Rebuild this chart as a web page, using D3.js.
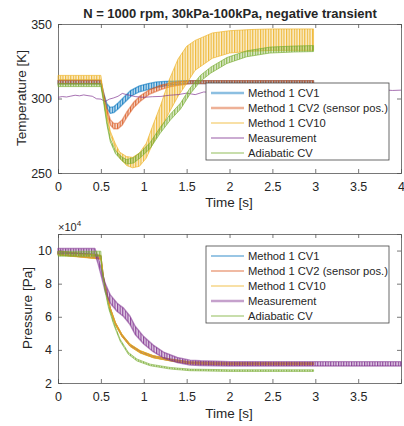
<!DOCTYPE html>
<html>
<head>
<meta charset="utf-8">
<script src="https://cdn.jsdelivr.net/npm/d3@7"></script>
<style>
  body { margin: 0; background: #fff; }
  text { font-family: "Liberation Sans", Arial, sans-serif; fill: #262626; }
</style>
</head>
<body>
<svg width="404" height="426"></svg>
<script>
// ---- data ----
var seriesNames = ["Method 1 CV1", "Method 1 CV2 (sensor pos.)", "Method 1 CV10", "Measurement", "Adiabatic CV"];
var seriesColors = ["#0072BD", "#D95319", "#EDB120", "#7E2F8E", "#77AC30"];

var xTicksTop = [0, 0.5, 1, 1.5, 2, 2.5, 3, 3.5, 4];
var xTicksBottom = [0, 0.5, 1, 1.5, 2, 2.5, 3, 3.5];
var yTicksTemp = [250, 300, 350];
var yTicksPres = [2, 4, 6, 8, 10];

// temperature [K]: time, mid value, half range of the cycle ripple
var tempCv1T   = [0, 0.5, 0.53, 0.57, 0.61, 0.65, 0.7, 0.77, 0.85, 0.95, 1.05, 1.15, 1.25, 1.35, 1.5, 2.0, 2.5, 2.98];
var tempCv1    = [311, 311, 303, 295, 292, 292.5, 295, 299, 303.5, 306.5, 308, 309.3, 310, 310.5, 311, 311, 311, 311];
var tempCv1Amp = [1.2, 1.2, 1, 1.5, 2, 2, 2, 2, 2, 2, 2, 1.8, 1.5, 1.2, 1, 1, 1, 1];

var tempCv2T   = [0, 0.5, 0.53, 0.57, 0.61, 0.65, 0.7, 0.75, 0.8, 0.88, 0.96, 1.07, 1.2, 1.3, 1.4, 1.55, 2.0, 2.5, 2.98];
var tempCv2    = [311, 311, 303.5, 292, 284, 281.5, 281.5, 284, 289, 295.5, 300, 304.5, 307.5, 309, 310, 311, 311, 311, 311];
var tempCv2Amp = [1.2, 1.2, 1, 1.5, 1.8, 1.8, 1.8, 1.8, 1.8, 1.8, 1.8, 1.5, 1.5, 1.2, 1.2, 1, 1, 1, 1];

var tempCv10T   = [0, 0.5, 0.53, 0.57, 0.61, 0.67, 0.72, 0.8, 0.87, 0.95, 1.03, 1.1, 1.2, 1.3, 1.4, 1.5, 1.6, 1.8, 2.0, 2.25, 2.5, 2.75, 2.98];
var tempCv10    = [314, 314, 301, 288, 277, 268, 262, 258, 257, 259, 265, 275, 288, 302, 314, 322.5, 329, 335.5, 338, 339, 339.5, 339.5, 339.5];
var tempCv10Amp = [1.5, 1.5, 1, 1, 1, 1.5, 2, 3, 3.5, 4.5, 5, 6, 8, 11, 12.5, 12.5, 10, 8.5, 7.5, 7.3, 7.2, 7.2, 7.2];

var tempAdiT   = [0, 0.5, 0.53, 0.57, 0.61, 0.67, 0.745, 0.8, 0.88, 0.96, 1.075, 1.19, 1.31, 1.43, 1.54, 1.66, 1.78, 1.97, 2.2, 2.47, 2.75, 2.98];
var tempAdi    = [309, 309, 299, 283.5, 272, 264, 259.5, 257.5, 258.5, 262, 268.5, 278.5, 287.5, 295, 305, 313.5, 319, 325.5, 330, 332.5, 333.2, 333.5];
var tempAdiAmp = [1, 1, 1, 1, 1, 1, 1.2, 1.5, 1.8, 1.8, 2, 2, 2, 2, 2, 2, 2, 2, 2, 2, 2, 2];

var tempMeasT = [0, 0.05, 0.1, 0.15, 0.2, 0.25, 0.3, 0.35, 0.4, 0.45, 0.5, 0.55, 0.6, 0.65, 0.7, 0.75, 0.8, 0.85, 0.9, 0.95, 1.0, 1.1, 1.2, 1.3, 1.4, 1.5, 1.6, 1.7, 1.8, 2.0, 2.2, 2.4, 2.6, 2.8, 3.0, 3.2, 3.4, 3.6, 3.8, 3.9, 4.0];
var tempMeas  = [300.8, 301.3, 301, 301.6, 302.2, 301.8, 302.4, 301.9, 301.5, 299.8, 299.6, 298, 299.6, 300.4, 301.5, 303.4, 302.6, 302, 301.3, 301, 300.8, 301.2, 301.4, 302.2, 302.6, 303.6, 302.6, 304.4, 304, 304.3, 304.6, 304.8, 305, 305.1, 305.3, 305.4, 305.5, 305.6, 305.8, 305.4, 305.6];

// pressure [x10^4 Pa]
var presCv1T   = [0, 0.5, 0.53, 0.57, 0.61, 0.67, 0.745, 0.84, 0.96, 1.11, 1.31, 1.54, 2.0, 2.5, 2.98];
var presCv1    = [9.85, 9.6, 8.36, 7.37, 6.47, 5.58, 4.88, 4.28, 3.88, 3.59, 3.39, 3.22, 3.17, 3.17, 3.17];
var presCv1Amp = [0.1, 0.1, 0.05, 0.05, 0.05, 0.05, 0.05, 0.05, 0.05, 0.05, 0.05, 0.05, 0.05, 0.05, 0.05];

var presCv2T   = [0, 0.5, 0.53, 0.57, 0.61, 0.67, 0.745, 0.84, 0.96, 1.11, 1.31, 1.54, 2.0, 2.5, 2.98];
var presCv2    = [9.85, 9.6, 8.36, 7.37, 6.47, 5.58, 4.88, 4.28, 3.88, 3.59, 3.39, 3.2, 3.14, 3.14, 3.14];
var presCv2Amp = [0.1, 0.1, 0.05, 0.05, 0.05, 0.05, 0.05, 0.05, 0.05, 0.05, 0.05, 0.05, 0.05, 0.05, 0.05];

var presCv10T   = [0, 0.5, 0.53, 0.57, 0.61, 0.67, 0.745, 0.84, 0.96, 1.11, 1.31, 1.54, 2.0, 2.5, 2.98];
var presCv10    = [9.85, 9.6, 8.36, 7.37, 6.47, 5.58, 4.88, 4.28, 3.88, 3.59, 3.39, 3.23, 3.18, 3.18, 3.18];
var presCv10Amp = [0.12, 0.12, 0.08, 0.08, 0.08, 0.08, 0.08, 0.08, 0.08, 0.07, 0.06, 0.06, 0.06, 0.06, 0.06];

var presMeasT   = [0, 0.43, 0.47, 0.51, 0.55, 0.61, 0.69, 0.765, 0.84, 0.9, 1.0, 1.11, 1.23, 1.39, 1.54, 1.66, 2.0, 2.5, 3.0, 3.5, 4.0];
var presMeas    = [9.97, 9.97, 9.36, 8.57, 7.77, 7.07, 6.57, 6.27, 5.78, 5.18, 4.58, 4.09, 3.69, 3.39, 3.23, 3.2, 3.16, 3.16, 3.16, 3.16, 3.16];
var presMeasAmp = [0.15, 0.15, 0.2, 0.22, 0.25, 0.25, 0.25, 0.25, 0.25, 0.25, 0.22, 0.2, 0.18, 0.15, 0.15, 0.14, 0.13, 0.13, 0.13, 0.13, 0.13];

var presAdiT   = [0, 0.5, 0.51, 0.55, 0.59, 0.65, 0.725, 0.82, 0.92, 1.075, 1.31, 1.54, 2.0, 2.5, 2.98];
var presAdi    = [9.81, 9.81, 8.96, 7.57, 6.57, 5.58, 4.58, 3.79, 3.39, 3.09, 2.89, 2.79, 2.75, 2.75, 2.75];
var presAdiAmp = [0.15, 0.15, 0.05, 0.06, 0.06, 0.06, 0.06, 0.06, 0.06, 0.05, 0.05, 0.05, 0.05, 0.05, 0.05];

var svg = d3.select("svg");

// vertical stripe fills, one stripe per engine cycle (~2.6 px at this scale)
var defs = svg.append("defs");
seriesColors.forEach(function(c, i) {
    var p = defs.append("pattern").attr("id", "ripple" + i)
        .attr("patternUnits", "userSpaceOnUse").attr("width", 2.6).attr("height", 20);
    p.append("rect").attr("width", 2.6).attr("height", 20).attr("fill", c).attr("fill-opacity", 0.2);
    p.append("rect").attr("width", 1.2).attr("height", 20).attr("fill", c).attr("fill-opacity", 0.85);
});

function rows(t, mid, amp) {
    return t.map(function(d, i) { return { t: d, m: mid[i], a: amp ? amp[i] : 0 }; });
}

// one axes box in MATLAB style: box on, ticks inward on all four sides
function makeAxes(o) {
    var x = d3.scaleLinear().domain(o.xDomain).range([58, 401]);
    var y = d3.scaleLinear().domain(o.yDomain).range([o.bottom, o.top]);
    var g = svg.append("g");

    g.append("g").attr("transform", "translate(0," + o.bottom + ")")
        .call(d3.axisBottom(x).tickValues(o.xTicks).tickSize(-4).tickPadding(9).tickFormat(d3.format("")));
    g.append("g").attr("transform", "translate(0," + o.top + ")")
        .call(d3.axisTop(x).tickValues(o.xTicks).tickSize(-4).tickFormat(""));
    g.append("g").attr("transform", "translate(58,0)")
        .call(d3.axisLeft(y).tickValues(o.yTicks).tickSize(-4).tickPadding(6));
    g.append("g").attr("transform", "translate(401,0)")
        .call(d3.axisRight(y).tickValues(o.yTicks).tickSize(-4).tickFormat(""));

    g.selectAll(".domain").attr("stroke", "#555").attr("stroke-width", 0.8);
    g.selectAll(".tick line").attr("stroke", "#555").attr("stroke-width", 0.8);
    g.selectAll(".tick text").style("font-size", "12.5px").attr("fill", "#262626");

    return { g: g, x: x, y: y };
}

// cycle ripple drawn as a striped band between mid-amp and mid+amp
function band(ax, data, idx, width, opacity) {
    var area = d3.area()
        .x(d => ax.x(d.t))
        .y0(d => ax.y(d.m - d.a))
        .y1(d => ax.y(d.m + d.a));
    ax.g.append("path")
        .attr("d", area(data))
        .attr("fill", "url(#ripple" + idx + ")")
        .attr("stroke", seriesColors[idx]).attr("stroke-width", width)
        .attr("stroke-opacity", opacity).attr("stroke-linejoin", "round");
}

function plainLine(ax, data, idx, width, opacity) {
    var line = d3.line().x(d => ax.x(d.t)).y(d => ax.y(d.m));
    ax.g.append("path")
        .attr("d", line(data))
        .attr("fill", "none")
        .attr("stroke", seriesColors[idx]).attr("stroke-width", width).attr("stroke-opacity", opacity);
}

function legend(x0, y0, widths) {
    var g = svg.append("g");
    g.append("rect").attr("x", x0).attr("y", y0).attr("width", 183).attr("height", 77)
        .attr("fill", "#fff").attr("stroke", "#444").attr("stroke-width", 0.8);
    seriesNames.forEach(function(name, i) {
        var yy = y0 + 10 + i * 15;
        g.append("line").attr("x1", x0 + 5).attr("x2", x0 + 38).attr("y1", yy).attr("y2", yy)
            .attr("stroke", seriesColors[i]).attr("stroke-width", widths[i])
            .attr("stroke-opacity", widths[i] > 1.5 ? 0.45 : 0.8);
        g.append("text").attr("x", x0 + 42).attr("y", yy + 4).text(name)
            .style("font-size", "11.2px");
    });
}

// ---- temperature ----
var axT = makeAxes({ xDomain: [0, 4], yDomain: [250, 350], top: 24, bottom: 173,
                     xTicks: xTicksTop, yTicks: yTicksTemp });
band(axT, rows(tempCv1T, tempCv1, tempCv1Amp), 0, 1.3, 0.55);
band(axT, rows(tempCv2T, tempCv2, tempCv2Amp), 1, 1.3, 0.5);
band(axT, rows(tempCv10T, tempCv10, tempCv10Amp), 2, 0.8, 0.8);
plainLine(axT, rows(tempMeasT, tempMeas), 3, 0.9, 0.75);
band(axT, rows(tempAdiT, tempAdi, tempAdiAmp), 4, 0.8, 0.8);

svg.append("text").attr("x", 230).attr("y", 18).attr("text-anchor", "middle")
    .style("font-size", "13px").style("font-weight", "bold").text("N = 1000 rpm, 30kPa-100kPa, negative transient");
svg.append("text").attr("x", 229).attr("y", 207).attr("text-anchor", "middle")
    .style("font-size", "13.5px").text("Time [s]");
svg.append("text").attr("transform", "translate(26,98) rotate(-90)").attr("text-anchor", "middle")
    .style("font-size", "13.5px").text("Temperature [K]");
legend(206, 83, [2.5, 2.5, 1, 1, 1]);

// ---- pressure ----
var axP = makeAxes({ xDomain: [0, 3.999], yDomain: [2, 11], top: 234, bottom: 383,
                     xTicks: xTicksBottom, yTicks: yTicksPres });
band(axP, rows(presCv1T, presCv1, presCv1Amp), 0, 0.8, 0.8);
band(axP, rows(presCv2T, presCv2, presCv2Amp), 1, 0.8, 0.8);
band(axP, rows(presCv10T, presCv10, presCv10Amp), 2, 0.9, 0.85);
band(axP, rows(presMeasT, presMeas, presMeasAmp), 3, 1.4, 0.55);
band(axP, rows(presAdiT, presAdi, presAdiAmp), 4, 0.8, 0.7);

var expo = svg.append("text").attr("x", 58).attr("y", 231).style("font-size", "11px");
expo.append("tspan").text("\u00d710");
expo.append("tspan").attr("dy", -5).style("font-size", "8px").text("4");
svg.append("text").attr("x", 229).attr("y", 418).attr("text-anchor", "middle")
    .style("font-size", "13.5px").text("Time [s]");
svg.append("text").attr("transform", "translate(32,308) rotate(-90)").attr("text-anchor", "middle")
    .style("font-size", "13.5px").text("Pressure [Pa]");
legend(206, 246, [1, 1, 1, 2.5, 1]);
</script>
</body>
</html>
